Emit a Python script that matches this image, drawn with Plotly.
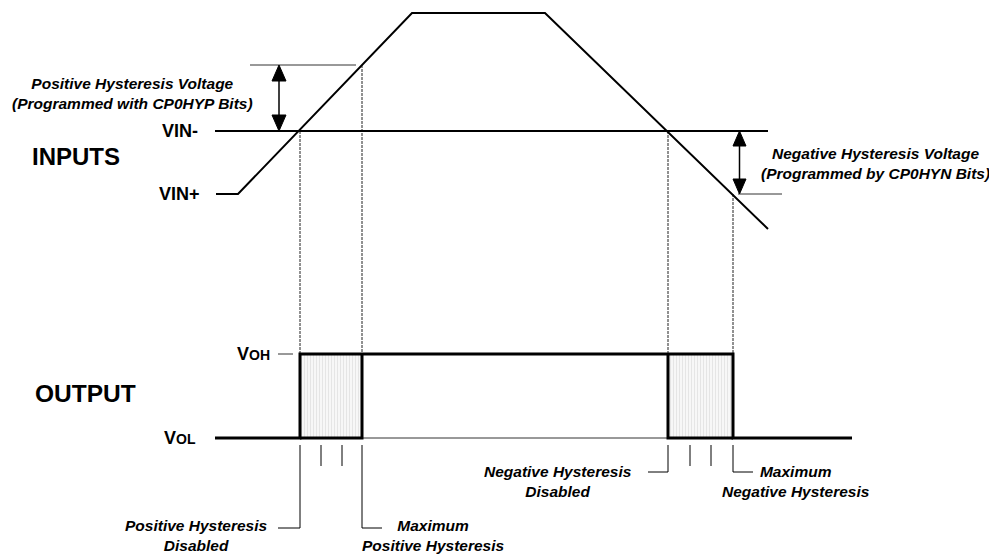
import plotly.graph_objects as go

# ---------------- data (diagram units: x = time, y = level, screen-like) ----------------
# Input waveform VIN+
vin_plus_t = [216, 238, 412, 545, 768]
vin_plus_v = [194, 194, 13, 13, 229]
# Threshold VIN-
vin_minus_t = [215, 768]
VIN_MINUS = 131
# Hysteresis levels
HYST_POS = 65
HYST_NEG = 194
hyst_pos_t = [250, 356]
hyst_neg_t = [738, 782]
# Switching instants
t_pos_disabled = 300
t_pos_max = 362
t_neg_disabled = 668
t_neg_max = 733
# Output levels
VOH = 354
VOL = 438
output_t = [215, t_pos_disabled, t_pos_disabled, t_neg_max, t_neg_max, 852]
output_v = [VOL, VOL, VOH, VOH, VOL, VOL]
# Intermediate hysteresis setting marks
pos_steps = [321, 342]
neg_steps = [690, 711]

FONT = "Liberation Sans, Arial, Helvetica, sans-serif"
BLACK = "#000000"

fig = go.Figure()


def line(xs, ys, width=2, color=BLACK, dash=None):
    fig.add_trace(go.Scatter(x=xs, y=ys, mode="lines",
                             line=dict(color=color, width=width, dash=dash),
                             hoverinfo="skip", showlegend=False))


def box(x0, x1):
    fig.add_trace(go.Scatter(x=[x0, x1, x1, x0, x0], y=[VOH, VOH, VOL, VOL, VOH],
                             mode="none", fill="toself",
                             fillpattern=dict(shape="|", size=3, solidity=0.3,
                                              fgcolor="#cfcfcf", bgcolor="#f7f7f7"),
                             hoverinfo="skip", showlegend=False))


def double_arrow(x, y_top, y_bot, head_len=16, head_w=14):
    line([x, x], [y_top + head_len, y_bot - head_len], width=1.5)
    for apex, base in ((y_top, y_top + head_len), (y_bot, y_bot - head_len)):
        fig.add_trace(go.Scatter(x=[x, x - head_w / 2, x + head_w / 2, x],
                                 y=[apex, base, base, apex], mode="lines",
                                 fill="toself", fillcolor=BLACK,
                                 line=dict(color=BLACK, width=1),
                                 hoverinfo="skip", showlegend=False))


# hatched boxes
box(t_pos_disabled, t_pos_max)
box(t_neg_disabled, t_neg_max)

# vertical guide lines from inputs to output
guide = "3px,1px"
gcol = "#222"
line([t_pos_disabled] * 2, [VIN_MINUS, VOH], width=1, color=gcol, dash=guide)
line([t_pos_max] * 2, [HYST_POS, VOH], width=1, color=gcol, dash=guide)
line([t_neg_disabled] * 2, [VIN_MINUS, VOH], width=1, color=gcol, dash=guide)
line([t_neg_max] * 2, [HYST_NEG, VOH], width=1, color=gcol, dash=guide)

# hysteresis reference lines
line(hyst_pos_t, [HYST_POS, HYST_POS], width=1, color="#333")
line(hyst_neg_t, [HYST_NEG, HYST_NEG], width=1, color="#333")

# inputs
line(vin_minus_t, [VIN_MINUS, VIN_MINUS], width=2)
line(vin_plus_t, vin_plus_v, width=2)

# arrows
double_arrow(279, HYST_POS, VIN_MINUS)
double_arrow(739.5, VIN_MINUS, HYST_NEG, head_len=15, head_w=13)

# output
line([t_pos_max, t_neg_disabled], [VOL, VOL], width=1, color="#333")
line(output_t, output_v, width=3)
line([t_pos_disabled, t_pos_max, t_pos_max], [VOL, VOL, VOH], width=3)
line([t_neg_disabled, t_neg_disabled, t_neg_max], [VOH, VOL, VOL], width=3)
line([278, 293], [VOH, VOH], width=1, color="#333")

# bottom markers
TICK_TOP = 445
for t in pos_steps + neg_steps:
    line([t, t], [TICK_TOP, 466], width=1)
line([278, t_pos_disabled, t_pos_disabled], [528, 528, TICK_TOP], width=1)
line([t_pos_max, t_pos_max, 382], [TICK_TOP, 528, 528], width=1)
line([648, t_neg_disabled, t_neg_disabled], [472, 472, TICK_TOP], width=1)
line([t_neg_max, t_neg_max, 753], [TICK_TOP, 472, 472], width=1)

# ---------------- text ----------------
def label(x, y, text, size, xanchor="center", align="center"):
    fig.add_annotation(x=x, y=y, text=text, showarrow=False, xanchor=xanchor,
                       yanchor="middle", align=align,
                       font=dict(family=FONT, size=size, color=BLACK))


label(76, 156, "<b>INPUTS</b>", 24)
label(85, 393, "<b>OUTPUT</b>", 24.5)
label(200, VIN_MINUS, "<b>VIN-</b>", 18, xanchor="right")
label(202, 194, "<b>VIN+</b>", 18, xanchor="right")
label(272, VOH, "<b>V<span style='font-size:14px'>OH</span></b>", 18, xanchor="right")
label(198, VOL, "<b>V<span style='font-size:14px'>OL</span></b>", 18, xanchor="right")
label(132, 93, "<b><i>Positive Hysteresis Voltage<br>(Programmed with CP0HYP Bits)</i></b>", 15.5)
label(875, 163, "<b><i>Negative Hysteresis Voltage<br>(Programmed by CP0HYN Bits)</i></b>", 15.5)
label(196, 535, "<b><i>Positive Hysteresis<br>Disabled</i></b>", 15.5)
label(433, 535, "<b><i>Maximum<br>Positive Hysteresis</i></b>", 15.5)
label(558, 481, "<b><i>Negative Hysteresis<br>Disabled</i></b>", 15.5)
label(796, 481, "<b><i>Maximum<br>Negative Hysteresis</i></b>", 15.5)

fig.update_layout(
    width=989, height=554,
    margin=dict(l=0, r=0, t=0, b=0),
    paper_bgcolor="white", plot_bgcolor="white",
    showlegend=False,
    xaxis=dict(range=[0, 989], visible=False, fixedrange=True),
    yaxis=dict(range=[554, 0], visible=False, fixedrange=True),
)

fig.write_html("out.html", config={"displayModeBar": False},
               post_script="document.body.style.margin='0';document.body.style.overflow='hidden';")
